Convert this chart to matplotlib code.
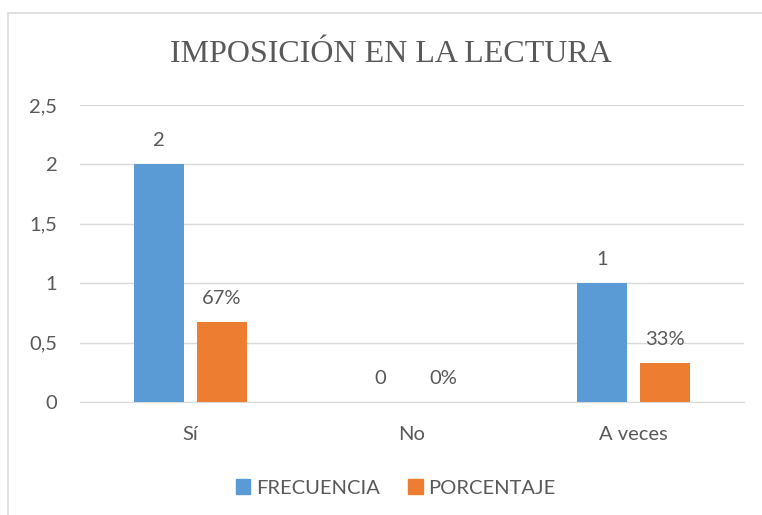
import matplotlib.pyplot as plt
import numpy as np
from matplotlib.patches import Rectangle, Patch

# datos del grafico
categorias = ['Sí', 'No', 'A veces']
frecuencia = [2, 0, 1]
porcentaje = [0.67, 0, 0.33]
etiquetas_pct = ['67%', '0%', '33%']

azul = '#5B9BD5'
naranja = '#ED7D31'
gris = '#595959'
fs = 14.5

fig = plt.figure(figsize=(7.62, 5.15), dpi=100)
ax = fig.add_axes([79.5 / 762, 113 / 515, 664.5 / 762, 297 / 515])

# marco del area del grafico
fig.patches.append(Rectangle((8 / 762, -0.1), 2, (515 - 13) / 515 + 0.1,
                             transform=fig.transFigure, fill=False,
                             edgecolor='#D9D9D9', linewidth=1.2))

x = np.arange(len(categorias))
ancho = 0.226
desp = 0.142

b1 = ax.bar(x - desp, frecuencia, ancho, color=azul, zorder=3)
b2 = ax.bar(x + desp, porcentaje, ancho, color=naranja, zorder=3)

for rect, v in zip(b1, frecuencia):
    ax.annotate(str(v), (rect.get_x() + rect.get_width() / 2, v),
                xytext=(0, 11), textcoords='offset points', ha='center', va='bottom',
                fontsize=fs, color=gris, family='Lato')
for rect, v, t in zip(b2, porcentaje, etiquetas_pct):
    ax.annotate(t, (rect.get_x() + rect.get_width() / 2, v),
                xytext=(0, 11), textcoords='offset points', ha='center', va='bottom',
                fontsize=fs, color=gris, family='Lato')

ax.set_xlim(-0.5, 2.5)
ax.set_ylim(0, 2.5)
ax.set_yticks([0, 0.5, 1, 1.5, 2, 2.5])
ax.set_yticklabels(['0', '0,5', '1', '1,5', '2', '2,5'])
ax.set_xticks(x)
ax.set_xticklabels(categorias)
ax.tick_params(length=0, labelsize=fs, labelcolor=gris)
ax.tick_params(axis='y', pad=16)
ax.tick_params(axis='x', pad=17)
for lab in ax.get_xticklabels() + ax.get_yticklabels():
    lab.set_family('Lato')

ax.grid(axis='y', color='#D9D9D9', linewidth=1, zorder=0)
for s in ['top', 'right', 'left']:
    ax.spines[s].set_visible(False)
ax.spines['bottom'].set_color('#D9D9D9')

fig.text(391 / 762, 1 - 54 / 515, 'IMPOSICIÓN EN LA LECTURA', ha='center', va='center',
         fontsize=23, color=gris, family='Liberation Serif')

handles = [Patch(color=azul, label='FRECUENCIA'), Patch(color=naranja, label='PORCENTAJE')]
leg = fig.legend(handles=handles, loc='center', bbox_to_anchor=(396 / 762, 1 - 488 / 515),
                 ncol=2, frameon=False, handlelength=0.7, handleheight=0.7,
                 handletextpad=0.3, columnspacing=1.4, prop={'family': 'Lato', 'size': fs})
for t in leg.get_texts():
    t.set_color(gris)

fig.savefig('out.png', dpi=100)
